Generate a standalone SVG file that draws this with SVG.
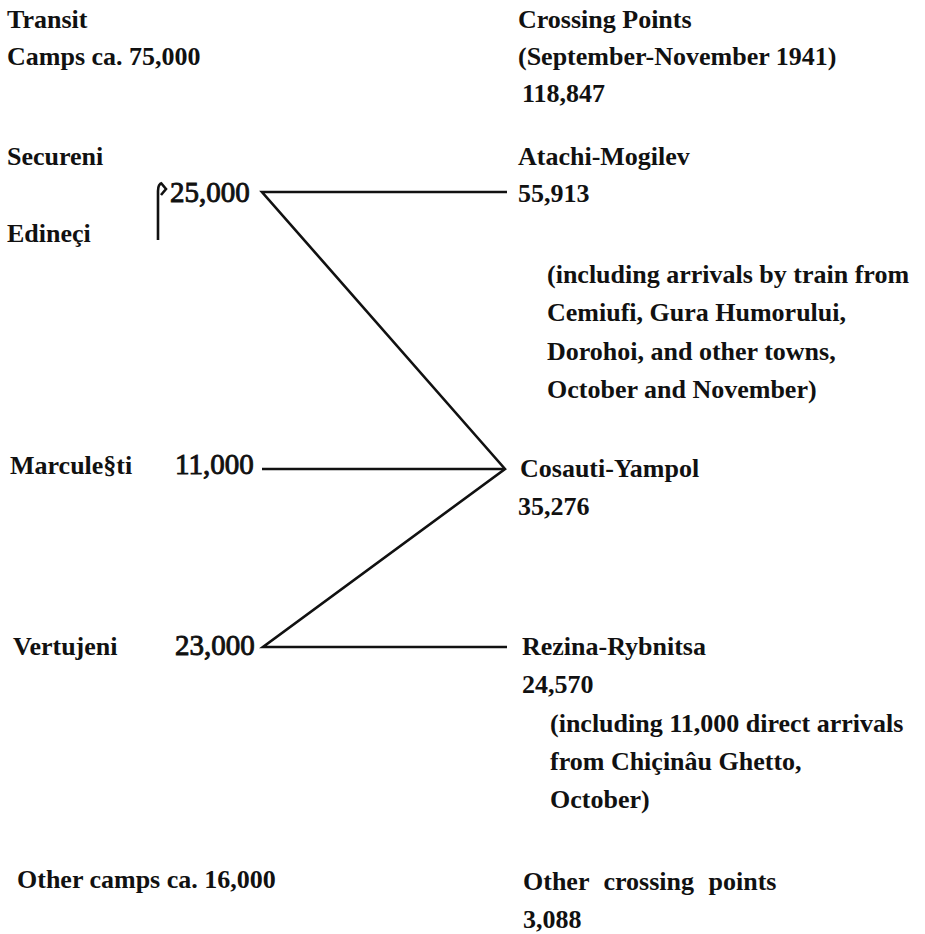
<svg xmlns="http://www.w3.org/2000/svg" width="925" height="934" viewBox="0 0 925 934">
<style>
text{font-family:'Liberation Serif','DejaVu Serif',serif;fill:#111;}
.b{font-weight:bold;font-size:26px;}
.n{font-weight:normal;font-size:29px;stroke:#111;stroke-width:0.9px;}
.ln{fill:none;stroke:#111;stroke-width:2.6;stroke-linejoin:miter;stroke-linecap:butt;}
</style>
<rect width="925" height="934" fill="#fff"/>
<g id="header-left"><text class="b" x="7" y="28">Transit</text><text class="b" x="7" y="65">Camps ca. 75,000</text></g>
<g id="header-right"><text class="b" x="518" y="28">Crossing Points</text><text class="b" x="518" y="65">(September-November 1941)</text><text class="b" x="522" y="102">118,847</text></g>
<g id="secureni-edineci"><text class="b" x="7" y="165">Secureni</text><text class="b" x="7" y="242">Edineçi</text>
<path class="ln" d="M158,240 V191 Q158,184 162,183" stroke-width="2"/><path class="ln" d="M161,183 L166,189 L161,195" stroke-width="2"/>
<text class="n" x="170" y="202">25,000</text></g>
<g id="atachi"><text class="b" x="518" y="165">Atachi-Mogilev</text><text class="b" x="518" y="202">55,913</text>
<text class="b" x="547" y="283">(including arrivals by train from</text><text class="b" x="547" y="321">Cemiufi, Gura Humorului,</text><text class="b" x="547" y="360">Dorohoi, and other towns,</text><text class="b" x="547" y="398">October and November)</text></g>
<g id="marculesti"><text class="b" x="10" y="474">Marcule§ti</text><text class="n" x="175" y="474">11,000</text></g>
<g id="cosauti"><text class="b" x="520" y="477">Cosauti-Yampol</text><text class="b" x="518" y="515">35,276</text></g>
<g id="vertujeni"><text class="b" x="13" y="655">Vertujeni</text><text class="n" x="175" y="655">23,000</text></g>
<g id="rezina"><text class="b" x="522" y="655">Rezina-Rybnitsa</text><text class="b" x="522" y="693">24,570</text>
<text class="b" x="550" y="732">(including 11,000 direct arrivals</text><text class="b" x="550" y="770">from Chiçinâu Ghetto,</text><text class="b" x="550" y="808">October)</text></g>
<g id="other-camps"><text class="b" x="17" y="888">Other camps ca. 16,000</text></g>
<g id="other-crossing"><text class="b" x="523" y="890" word-spacing="8">Other crossing points</text><text class="b" x="523" y="928">3,088</text></g>
<g id="connectors">
<path class="ln" d="M507,192 H262 L505,469 L263,647 H507"/>
<path class="ln" d="M262,469 H505"/>
</g>
</svg>
